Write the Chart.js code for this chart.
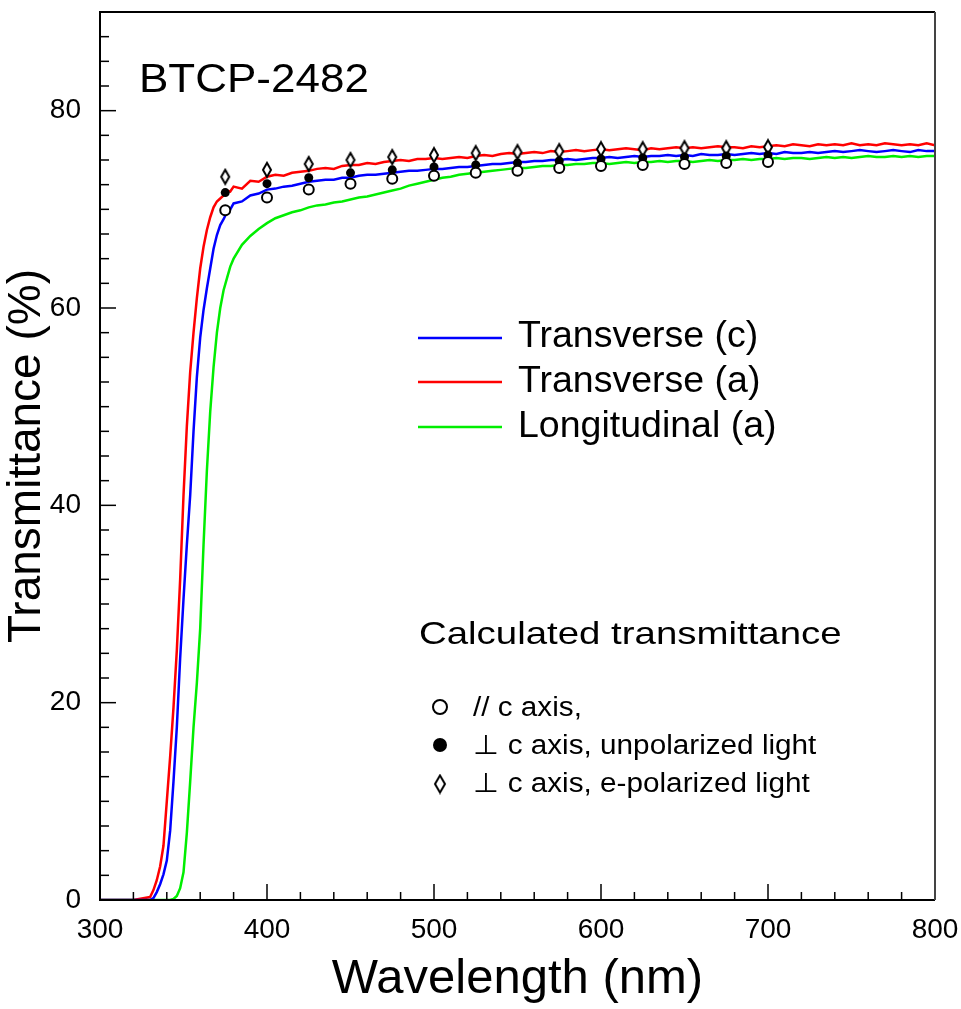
<!DOCTYPE html>
<html>
<head>
<meta charset="utf-8">
<script src="https://cdn.jsdelivr.net/npm/chart.js@4.4.1/dist/chart.umd.min.js"></script>
<style>
body{margin:0;background:#fff}
#grafico{display:block}
</style>
</head>
<body>
<canvas id="grafico" width="961" height="1009"></canvas>
<script>
// measured spectra (nm, %)
let wl=[300,320,
330,332,334,336,338,340,342,344,346,348,350,352,354,356,358,360,362,364,366,368,370,372,374,376,378,380,
385,390,395,400,405,410,415,420,425,430,
435,440,445,450,455,460,465,470,475,480,
485,490,495,500,505,510,515,520,525,530,
535,540,545,550,555,560,565,570,575,580,
585,590,595,600,605,610,615,620,625,630,
635,640,645,650,655,660,665,670,675,680,
685,690,695,700,705,710,715,720,725,730,
735,740,745,750,755,760,765,770,775,780,
785,790,795,800]

let transC=[0,0,
0,0.2,0.8,1.6,2.6,4.0,7.0,12.0,17.5,24.5,30.5,36.0,41.0,47.5,53.0,57.0,59.8,62.0,64.0,66.0,67.4,68.4,69.0,69.7,70.0,70.6,
70.8,71.4,71.6,72.0,72.1,72.3,72.4,72.6,72.8,72.9,
73.0,73.0,73.2,73.2,73.4,73.5,73.5,73.6,73.7,73.8,
73.9,73.9,74.0,74.1,74.1,74.2,74.3,74.3,74.4,74.5,
74.6,74.6,74.7,74.8,74.8,74.9,74.9,75.0,75.0,75.1,
75.0,75.1,75.2,75.2,75.3,75.2,75.3,75.4,75.3,75.4,
75.4,75.5,75.4,75.5,75.4,75.6,75.5,75.5,75.6,75.5,
75.6,75.7,75.6,75.7,75.6,75.8,75.7,75.7,75.8,75.7,
75.8,75.9,75.8,75.9,76.0,75.9,75.8,75.9,76.0,75.9,
75.8,76.0,75.9,75.9]

let transA=[0,0,
0.3,1.0,2.0,3.4,5.5,10.0,14.5,19.5,25.3,32.5,41.0,48.0,53.5,57.5,61.0,64.0,66.2,67.9,69.2,70.2,70.8,71.1,71.4,71.9,71.8,72.3,
72.1,72.9,72.8,73.3,73.5,73.4,73.7,73.8,73.9,74.1,
74.2,74.1,74.4,74.5,74.5,74.7,74.6,74.8,74.9,75.0,
74.9,75.1,75.1,75.2,75.1,75.2,75.3,75.2,75.4,75.5,
75.4,75.6,75.7,75.6,75.7,75.8,75.7,75.9,75.8,75.9,
76.0,75.9,76.0,76.1,76.0,76.1,76.2,76.1,76.0,76.2,
76.1,76.2,76.3,76.2,76.3,76.2,76.3,76.4,76.3,76.3,
76.2,76.4,76.3,76.4,76.5,76.4,76.6,76.5,76.4,76.6,
76.5,76.6,76.5,76.7,76.5,76.6,76.5,76.7,76.6,76.5,
76.6,76.5,76.7,76.5]

let longA=[0,0,
0,0,0,0,0,0,0,0.1,0.4,1.2,2.8,6.8,12.0,17.5,22.0,27.5,36.0,43.5,49.5,54.0,57.5,60.0,61.8,63.0,64.2,65.0,
66.4,67.3,68.0,68.6,69.1,69.4,69.7,69.9,70.2,70.4,
70.5,70.7,70.8,71.0,71.2,71.3,71.5,71.7,71.9,72.1,
72.4,72.6,72.8,73.0,73.2,73.3,73.5,73.6,73.7,73.8,
73.9,74.0,74.1,74.2,74.2,74.3,74.4,74.4,74.5,74.5,
74.6,74.6,74.7,74.7,74.6,74.7,74.8,74.7,74.8,74.8,
74.9,74.8,74.9,74.9,74.8,74.9,75.0,74.9,75.0,75.0,
75.1,75.0,75.1,75.1,75.2,75.1,75.2,75.2,75.1,75.2,
75.3,75.2,75.3,75.2,75.3,75.4,75.3,75.3,75.4,75.3,
75.4,75.3,75.4,75.4]

// calculated transmittance
let calcWl=[375,400,425,450,475,500,525,550,575,600,625,650,675,700]
let calcParC=[69.9,71.2,72.0,72.6,73.1,73.4,73.7,73.9,74.2,74.4,74.5,74.6,74.7,74.8]
let calcPerpUnpol=[71.7,72.6,73.2,73.7,74.0,74.3,74.5,74.7,74.9,75.1,75.2,75.3,75.4,75.5]
let calcPerpEpol=[73.3,74.0,74.6,75.0,75.3,75.5,75.7,75.8,75.9,76.1,76.1,76.2,76.2,76.3]

let serieNomes=['Transverse (c)','Transverse (a)','Longitudinal (a)']
let serieCores=['#0000ff','#ff0000','#00ee00']
let calcNomes=['// c axis,','\u22a5 c axis, unpolarized light','\u22a5 c axis, e-polarized light']

let fonte='"Liberation Sans", Arial, Helvetica, sans-serif'

function pares(xs,ys){
return xs.map((v,i)=>({x:v,y:ys[i]}))
}

function losango(w,h,lw){
let c=document.createElement('canvas')
c.width=w+lw*2
c.height=h+lw*2
let g=c.getContext('2d')
g.beginPath()
g.moveTo(c.width/2,lw)
g.lineTo(c.width-lw,c.height/2)
g.lineTo(c.width/2,c.height-lw)
g.lineTo(lw,c.height/2)
g.closePath()
g.fillStyle='#fff'
g.fill()
g.lineWidth=lw
g.strokeStyle='#000'
g.stroke()
return c
}

let diamanteGrafico=losango(8,14,2)
let diamanteLegenda=losango(10,17,2)

function texto(ctx,t,x,y,size,sx){
ctx.save()
ctx.translate(x,y)
ctx.scale(sx,1)
ctx.font=`${size}px ${fonte}`
ctx.fillStyle='#000'
ctx.textAlign='left'
ctx.textBaseline='alphabetic'
ctx.fillText(t,0,0)
ctx.restore()
}

let molduraPlugin={
id:'moldura',
afterDatasetsDraw(chart){
let{ctx,chartArea:a,scales}=chart
let sx=scales.x
let sy=scales.y
ctx.save()
ctx.strokeStyle='#000'
ctx.lineWidth=1.5
sx.ticks.forEach(t=>{
let px=sx.getPixelForValue(t.value)
let len=t.value%100===0?16:8
ctx.beginPath()
ctx.moveTo(px,a.bottom)
ctx.lineTo(px,a.bottom-len)
ctx.stroke()
})
sy.ticks.forEach(t=>{
let py=sy.getPixelForValue(t.value)
let len=t.value%20===0?16:9
ctx.beginPath()
ctx.moveTo(a.left,py)
ctx.lineTo(a.left+len,py)
ctx.stroke()
})
ctx.lineWidth=2
ctx.beginPath()
ctx.moveTo(a.right,a.top)
ctx.lineTo(a.left,a.top)
ctx.lineTo(a.left,a.bottom)
ctx.lineTo(a.right,a.bottom)
ctx.stroke()
ctx.strokeStyle='#444'
ctx.beginPath()
ctx.moveTo(a.right,a.top)
ctx.lineTo(a.right,a.bottom)
ctx.stroke()
ctx.restore()
},
afterDraw(chart){
let ctx=chart.ctx
texto(ctx,'BTCP-2482',139,92,40,1.1)

// line legend
let ys=[338,382,427]
let bases=[347,392,437]
serieNomes.forEach((n,i)=>{
ctx.save()
ctx.strokeStyle=serieCores[i]
ctx.lineWidth=2.5
ctx.beginPath()
ctx.moveTo(418,ys[i])
ctx.lineTo(502,ys[i])
ctx.stroke()
ctx.restore()
texto(ctx,n,518,bases[i],37.5,1)
})

// symbol legend
texto(ctx,'Calculated transmittance',419,644,32,1.2)
let sy=[707,745,784]
let tb=[716,754,792]
ctx.save()
ctx.lineWidth=2
ctx.strokeStyle='#000'
ctx.fillStyle='#fff'
ctx.beginPath()
ctx.arc(440,sy[0],7,0,Math.PI*2)
ctx.fill()
ctx.stroke()
ctx.fillStyle='#000'
ctx.beginPath()
ctx.arc(440,sy[1],7,0,Math.PI*2)
ctx.fill()
ctx.drawImage(diamanteLegenda,440-diamanteLegenda.width/2,sy[2]-diamanteLegenda.height/2)
ctx.restore()
calcNomes.forEach((n,i)=>{
texto(ctx,n,473,tb[i],27,1.1)
})
}
}

new Chart(document.getElementById('grafico'),{
type:'line',
data:{
datasets:[
{
label:'calc // c',
data:pares(calcWl,calcParC),
showLine:false,
pointStyle:'circle',
pointRadius:5,
pointBorderWidth:2,
pointBorderColor:'#000',
pointBackgroundColor:'#fff'
},
{
label:'calc perp unpol',
data:pares(calcWl,calcPerpUnpol),
showLine:false,
pointStyle:'circle',
pointRadius:4.5,
pointBorderWidth:0,
pointBackgroundColor:'#000'
},
{
label:'calc perp e-pol',
data:pares(calcWl,calcPerpEpol),
showLine:false,
pointStyle:diamanteGrafico,
pointRadius:6
},
{
label:serieNomes[0],
data:pares(wl,transC),
borderColor:serieCores[0],
borderWidth:2.5,
pointRadius:0,
tension:0
},
{
label:serieNomes[1],
data:pares(wl,transA),
borderColor:serieCores[1],
borderWidth:2.5,
pointRadius:0,
tension:0
},
{
label:serieNomes[2],
data:pares(wl,longA),
borderColor:serieCores[2],
borderWidth:2.5,
pointRadius:0,
tension:0
}
]
},
options:{
responsive:false,
animation:false,
layout:{
padding:{top:12,right:26,left:0,bottom:0}
},
plugins:{
legend:{display:false},
tooltip:{enabled:false}
},
scales:{
x:{
type:'linear',
min:300,
max:800,
grid:{display:false},
border:{display:false},
ticks:{
stepSize:20,
autoSkip:false,
maxRotation:0,
padding:5,
color:'#000',
font:{size:28,family:fonte},
callback:v=>v%100===0?String(v):''
},
title:{
display:true,
text:'Wavelength (nm)',
color:'#000',
font:{size:49,family:fonte},
padding:{top:0,bottom:0}
},
afterFit:s=>{
s.height=109
s.paddingLeft=0
s.paddingRight=0
}
},
y:{
min:0,
max:90,
grid:{display:false},
border:{display:false},
ticks:{
stepSize:2.5,
autoSkip:false,
padding:11,
color:'#000',
font:{size:28,family:fonte},
callback:v=>v%20===0?String(v):''
},
title:{
display:true,
text:'Transmittance (%)',
color:'#000',
font:{size:46,family:fonte},
padding:{top:0,bottom:0}
},
afterFit:s=>{
s.width=100
s.paddingTop=0
s.paddingBottom=0
}
}
}
},
plugins:[molduraPlugin]
})
</script>
</body>
</html>
